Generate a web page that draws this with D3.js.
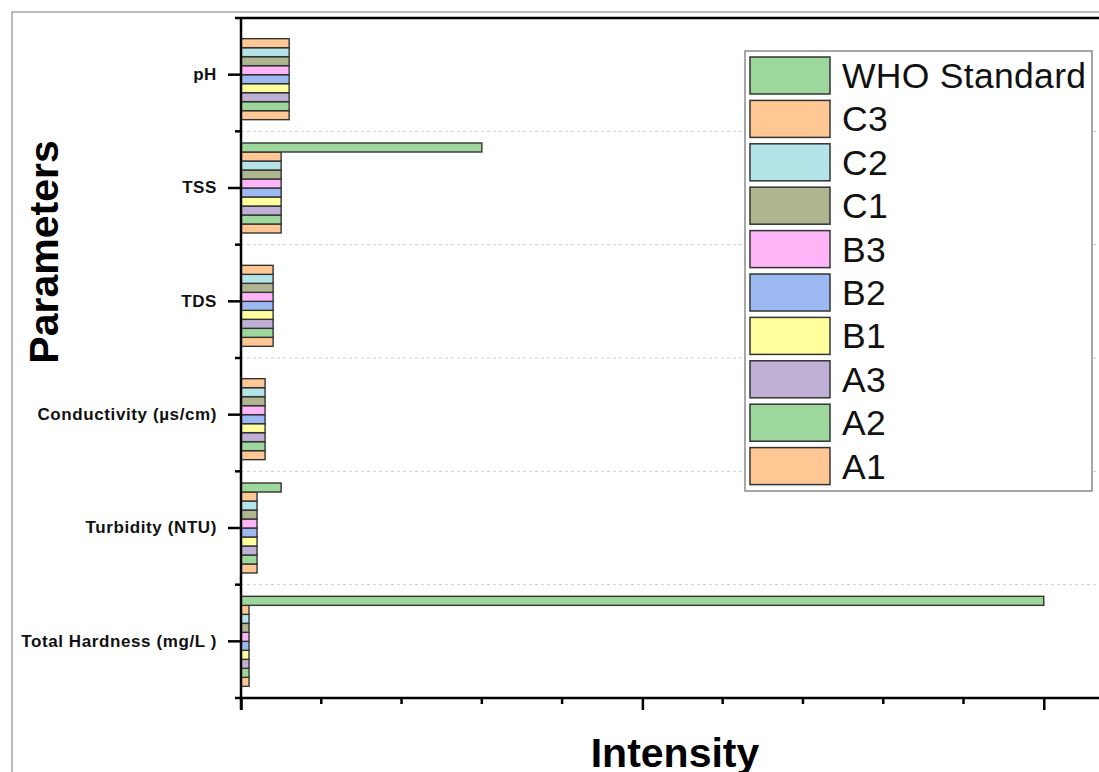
<!DOCTYPE html>
<html>
<head>
<meta charset="utf-8">
<script src="https://cdn.jsdelivr.net/npm/d3@7"></script>
<style>
  body { margin: 0; background: #fff; }
  text { font-family: "Liberation Sans", Arial, sans-serif; }
</style>
</head>
<body>
<div id="chart-area"></div>
<script>
// parameters top to bottom
let categories = ["pH", "TSS", "TDS", "Conductivity (µs/cm)", "Turbidity (NTU)", "Total Hardness (mg/L )"]

// series, bottom of each group first
let seriesNames = ["A1", "A2", "A3", "B1", "B2", "B3", "C1", "C2", "C3", "WHO Standard"]
let seriesColors = ["#fec794", "#9dd79b", "#c1b0d6", "#ffff9e", "#9cb9f1", "#feb5f7", "#afb58f", "#b4e3e8", "#fec794", "#9dd79b"]

// values per series, in category order (null = no bar)
let A1 = [30, 25, 20, 15, 10, 5]
let A2 = [30, 25, 20, 15, 10, 5]
let A3 = [30, 25, 20, 15, 10, 5]
let B1 = [30, 25, 20, 15, 10, 5]
let B2 = [30, 25, 20, 15, 10, 5]
let B3 = [30, 25, 20, 15, 10, 5]
let C1 = [30, 25, 20, 15, 10, 5]
let C2 = [30, 25, 20, 15, 10, 5]
let C3 = [30, 25, 20, 15, 10, 5]
let WHO = [null, 150, null, null, 25, 500]

let majorTicks = [0, 250, 500]
let minorTicks = [50, 100, 150, 200, 300, 350, 400, 450]

let seriesValues = [A1, A2, A3, B1, B2, B3, C1, C2, C3, WHO]

let svgW = 1099;
let svgH = 772;

let margin = { left: 241, top: 18, bottom: 74 }
let plotRight = 1108;
let plotBottom = svgH - margin.bottom;

let svg = d3.select("#chart-area")
  .append("svg")
  .attr("width", svgW)
  .attr("height", svgH)

// outer gray frame
svg.append("rect")
  .attr("x", 12).attr("y", 12)
  .attr("width", 1200).attr("height", 900)
  .attr("fill", "none")
  .attr("stroke", "#a4a4a4")
  .attr("stroke-width", 1.5)

let x = d3.scaleLinear()
  .domain([0, 540])
  .range([margin.left, plotRight])

let y = d3.scaleBand()
  .domain(categories)
  .range([margin.top, plotBottom])
  .paddingInner(0)

let pad = y.bandwidth() * 0.103;
let yInner = d3.scaleBand()
  .domain(seriesNames.slice().reverse())
  .range([pad, y.bandwidth() - pad])

let color = d3.scaleOrdinal()
  .domain(seriesNames)
  .range(seriesColors)

// dashed separators between groups
let bounds = categories.slice(1).map(c => y(c))
svg.append("g")
  .selectAll("line")
  .data(bounds)
  .enter()
  .append("line")
  .attr("x1", margin.left).attr("x2", svgW)
  .attr("y1", d => d).attr("y2", d => d)
  .attr("stroke", "#cfcfcf")
  .attr("stroke-width", 1)
  .attr("stroke-dasharray", "3,3")

// bars
let bars = [];
categories.forEach((c, i) => {
  seriesNames.forEach((s, j) => {
    let v = seriesValues[j][i];
    if (v != null) bars.push({ cat: c, series: s, value: v })
  })
})

svg.append("g")
  .selectAll("rect")
  .data(bars)
  .enter()
  .append("rect")
  .attr("x", x(0))
  .attr("y", d => y(d.cat) + yInner(d.series))
  .attr("width", d => x(d.value) - x(0))
  .attr("height", yInner.bandwidth())
  .attr("fill", d => color(d.series))
  .attr("stroke", "#333")
  .attr("stroke-width", 1.4)

// x axis
let xAxis = d3.axisBottom(x)
  .tickValues(majorTicks)
  .tickSize(12)
  .tickFormat("")
let gx = svg.append("g")
  .attr("transform", `translate(0,${plotBottom})`)
  .call(xAxis)
gx.select(".domain").remove()
gx.selectAll(".tick line").attr("stroke", "#000").attr("stroke-width", 2.5)
gx.append("g").selectAll("line")
  .data(minorTicks)
  .enter()
  .append("line")
  .attr("x1", d => x(d)).attr("x2", d => x(d))
  .attr("y1", 0).attr("y2", 6)
  .attr("stroke", "#000").attr("stroke-width", 2.5)
gx.append("line")
  .attr("x1", margin.left).attr("x2", svgW)
  .attr("y1", 0).attr("y2", 0)
  .attr("stroke", "#000").attr("stroke-width", 2.5)

// y axis
let yAxis = d3.axisLeft(y)
  .tickSize(13)
  .tickPadding(11)
let gy = svg.append("g")
  .attr("transform", `translate(${margin.left},0)`)
  .call(yAxis)
gy.select(".domain").remove()
gy.selectAll(".tick line").attr("stroke", "#000").attr("stroke-width", 2.5)
gy.selectAll(".tick text")
  .attr("font-family", "'Liberation Sans', Arial, sans-serif")
  .attr("font-size", 17)
  .attr("font-weight", "bold")
  .attr("letter-spacing", 0.6)
  .attr("fill", "#111")
gy.append("g").selectAll("line")
  .data([margin.top].concat(bounds, [plotBottom]))
  .enter()
  .append("line")
  .attr("x1", -6).attr("x2", 0)
  .attr("y1", d => d).attr("y2", d => d)
  .attr("stroke", "#000").attr("stroke-width", 2.5)
gy.append("line")
  .attr("x1", 0).attr("x2", 0)
  .attr("y1", margin.top).attr("y2", plotBottom + 12)
  .attr("stroke", "#000").attr("stroke-width", 2.5)

// top border
svg.append("line")
  .attr("x1", margin.left).attr("x2", svgW)
  .attr("y1", margin.top).attr("y2", margin.top)
  .attr("stroke", "#000").attr("stroke-width", 2.5)

// axis titles
svg.append("text")
  .attr("x", 675).attr("y", 767)
  .attr("text-anchor", "middle")
  .attr("font-size", 41)
  .attr("font-weight", "bold")
  .text("Intensity")

svg.append("text")
  .attr("transform", "translate(58,252) rotate(-90)")
  .attr("text-anchor", "middle")
  .attr("font-size", 41)
  .attr("font-weight", "bold")
  .text("Parameters")

// legend
let legendOrder = seriesNames.slice().reverse();
let legend = svg.append("g")
  .attr("transform", "translate(745,51)")

legend.append("rect")
  .attr("width", 347).attr("height", 440)
  .attr("fill", "#fff")
  .attr("stroke", "#8a8a8a")
  .attr("stroke-width", 1.5)

let rows = legend.selectAll(".row")
  .data(legendOrder)
  .enter()
  .append("g")
  .attr("class", "row")
  .attr("transform", (d, i) => `translate(5,${6 + i * 43.4})`)

rows.append("rect")
  .attr("width", 80).attr("height", 37)
  .attr("fill", d => color(d))
  .attr("stroke", "#333")
  .attr("stroke-width", 1.5)

rows.append("text")
  .attr("x", 92).attr("y", 31)
  .attr("font-size", 35.5)
  .attr("letter-spacing", 0.3)
  .attr("fill", "#111")
  .text(d => d)
</script>
</body>
</html>
